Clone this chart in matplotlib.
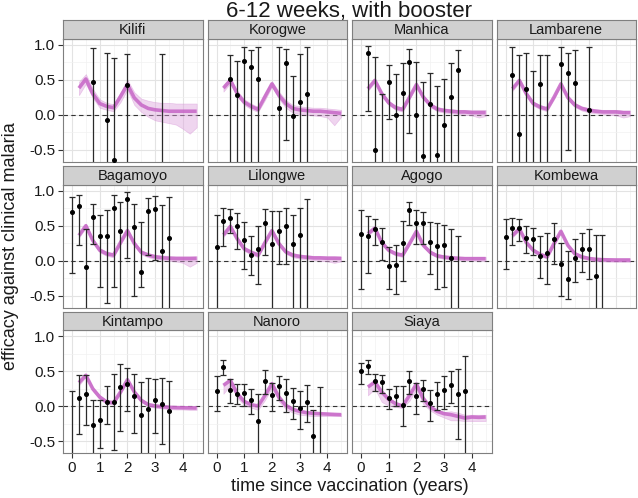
import matplotlib
matplotlib.use('Agg')
import matplotlib.pyplot as plt
from matplotlib.ticker import FixedLocator, FuncFormatter

plt.rcParams['font.family'] = ['Liberation Sans', 'DejaVu Sans']

W, H = 638, 498

sites = ['Kilifi', 'Korogwe', 'Manhica', 'Lambarene', 'Bagamoyo', 'Lilongwe',
         'Agogo', 'Kombewa', 'Kintampo', 'Nanoro', 'Siaya']

model_t = [0.25, 0.5, 0.75, 1.0, 1.25, 1.5, 1.75, 2.0, 2.25, 2.5, 2.75, 3.0,
           3.25, 3.5, 3.75, 4.0, 4.25, 4.5]

# ---------------- observed estimates ----------------
kilifi_t = [0.75, 1.25, 1.5, 2.0, 3.25]
kilifi_est = [0.47, -0.075, -0.65, 0.43, -0.9]
kilifi_lo = [-1.2, -1.2, -1.3, -1.2, -1.6]
kilifi_hi = [0.95, 0.88, 0.81, 0.86, 0.87]

korogwe_t = [0.5, 0.75, 1.0, 1.25, 1.5, 2.25, 2.5, 2.75, 3.0, 3.25]
korogwe_est = [0.51, 0.28, 0.76, 0.68, 0.51, 0.09, 0.74, -0.02, 0.18, 0.29]
korogwe_lo = [-1.2, -1.2, -1.2, -1.2, -1.2, -1.2, -0.36, -1.2, -1.2, -1.2]
korogwe_hi = [0.85, 0.76, 0.96, 0.92, 0.96, 0.96, 0.94, 0.55, 0.87, 0.96]

manhica_t = [0.25, 0.5, 0.75, 1.0, 1.25, 1.5, 1.75, 2.0, 2.25, 2.5, 2.75, 3.0, 3.25, 3.5]
manhica_est = [0.875, -0.50, -0.8, 0.47, -0.005, 0.315, 0.75, -0.01, -0.59, 0.16, -0.57, -0.15, 0.255, 0.645]
manhica_lo = [0.057, -1.2, -1.5, -0.057, -1.2, -1.2, -0.254, -1.2, -1.5, -1.2, -1.5, -1.2, -1.2, -1.2]
manhica_hi = [0.975, 0.83, 0.29, 0.716, 0.584, 0.735, 0.937, 0.75, 0.466, 0.593, 0.405, 0.513, 0.739, 0.923]

lambarene_t = [0.25, 0.5, 0.75, 1.0, 1.25, 1.5, 2.0, 2.25, 2.5, 3.0]
lambarene_est = [0.574, -0.273, 0.363, -0.8, 0.438, -0.8, 0.73, 0.598, 0.457, 0.07]
lambarene_lo = [-1.2, -1.2, -1.2, -1.5, -1.2, -1.5, -1.2, -0.499, -1.2, -1.2]
lambarene_hi = [0.96, 0.852, 0.876, 0.621, 0.852, 0.857, 0.97, 0.88, 0.918, 0.96]

bagamoyo_t = [0, 0.25, 0.5, 0.75, 1.0, 1.25, 1.5, 1.75, 2.0, 2.25, 2.5, 2.75, 3.0, 3.25, 3.5]
bagamoyo_est = [0.702, 0.786, -0.089, 0.631, 0.353, 0.348, 0.749, 0.419, 0.88, 0.480, -0.155, 0.716, 0.739, 0.137, 0.325]
bagamoyo_lo = [-0.169, 0.231, -1.2, 0.245, -0.37, -0.61, -0.37, -1.2, 0.033, -0.50, -0.37, 0.089, 0.009, -1.2, -1.2]
bagamoyo_hi = [0.913, 0.937, 0.45, 0.81, 0.659, 0.729, 0.937, 0.842, 0.975, 0.810, 0.551, 0.899, 0.918, 0.796, 0.904]

lilongwe_t = [0, 0.25, 0.5, 0.75, 1.0, 1.25, 1.5, 1.75, 2.0, 2.25, 2.5, 2.75, 3.0, 3.25]
lilongwe_est = [0.198, 0.574, 0.612, 0.490, 0.292, 0.089, 0.165, 0.541, 0.24, 0.419, 0.499, 0.24, 0.367, -0.8]
lilongwe_lo = [-1.2, 0.207, 0.395, 0.174, -0.12, -0.202, -0.33, 0.08, -1.2, -0.042, -0.042, -1.2, -1.2, -1.5]
lilongwe_hi = [0.655, 0.758, 0.739, 0.678, 0.551, 0.353, 0.494, 0.739, 0.706, 0.706, 0.749, 0.655, 0.753, 0.88]

agogo_t = [0, 0.25, 0.5, 0.75, 1.0, 1.25, 1.5, 1.75, 2.0, 2.25, 2.5, 2.75, 3.0, 3.25, 3.5]
agogo_est = [0.386, 0.353, 0.447, 0.268, -0.071, -0.061, 0.259, 0.73, 0.537, 0.537, 0.268, 0.207, 0.23, 0.033, -0.8]
agogo_lo = [-0.40, -0.169, 0.231, 0.009, -0.41, -0.475, -0.287, 0.513, 0.235, 0.235, -0.193, -0.41, -0.38, -1.2, -1.5]
agogo_hi = [0.725, 0.636, 0.598, 0.466, 0.198, 0.231, 0.565, 0.843, 0.725, 0.70, 0.551, 0.542, 0.513, 0.457, 0.348]

kombewa_t = [0, 0.25, 0.5, 0.75, 1.0, 1.25, 1.5, 1.75, 2.0, 2.25, 2.5, 2.75, 3.0, 3.25, 3.5]
kombewa_est = [0.339, 0.466, 0.466, 0.33, 0.306, 0.066, 0.104, 0.306, -0.052, -0.259, 0.042, 0.165, 0.165, -0.212, -0.8]
kombewa_lo = [-0.118, 0.231, 0.287, 0.113, 0.089, -0.24, -0.334, -0.052, -0.50, -0.55, -0.31, -0.165, -0.259, -1.2, -1.5]
kombewa_hi = [0.598, 0.61, 0.598, 0.489, 0.466, 0.353, 0.395, 0.541, 0.254, 0.136, 0.306, 0.395, 0.457, 0.363, 0.363]

kintampo_t = [0, 0.25, 0.5, 0.75, 1.0, 1.25, 1.5, 1.75, 2.0, 2.25, 2.5, 2.75, 3.0, 3.25, 3.5]
kintampo_est = [-0.75, 0.119, 0.171, -0.262, -0.19, 0.062, 0.067, 0.271, 0.314, 0.143, -0.129, -0.033, 0.086, 0.038, -0.067]
kintampo_lo = [-1.5, -0.390, -0.271, -1.2, -0.595, -0.248, -0.62, -0.352, -0.071, -0.381, -1.2, -1.2, -0.376, -0.538, -1.2]
kintampo_hi = [0.214, 0.443, 0.452, 0.095, 0.095, 0.290, 0.457, 0.6, 0.552, 0.457, 0.348, 0.410, 0.390, 0.4, 0.357]

nanoro_t = [0, 0.25, 0.5, 0.75, 1.0, 1.25, 1.5, 1.75, 2.0, 2.25, 2.5, 2.75, 3.0, 3.25, 3.5, 3.75]
nanoro_est = [0.214, 0.562, 0.229, 0.181, 0.190, 0.086, -0.214, 0.362, 0.167, 0.286, 0.190, 0.076, -0.019, 0.062, -0.424, -0.8]
nanoro_lo = [-0.071, 0.443, 0.043, 0.029, 0.005, -0.114, -1.2, 0.181, -0.067, 0.095, -0.081, -0.176, -0.319, -0.224, -1.2, -1.5]
nanoro_hi = [0.433, 0.657, 0.386, 0.314, 0.314, 0.243, 0.181, 0.514, 0.333, 0.433, 0.386, 0.267, 0.214, 0.309, -0.05, 0.281]

siaya_t = [0, 0.25, 0.5, 0.75, 1.0, 1.25, 1.5, 1.75, 2.0, 2.25, 2.5, 2.75, 3.0, 3.25, 3.5, 3.75]
siaya_est = [0.500, 0.576, 0.362, 0.348, 0.124, 0.148, 0.014, 0.357, 0.148, 0.252, 0.048, 0.171, 0.229, 0.300, 0.181, 0.219]
siaya_lo = [0.314, 0.457, 0.214, 0.195, -0.043, 0.005, -0.286, 0.181, -0.105, 0.071, -0.214, -0.057, -0.033, 0.052, -0.471, -1.2]
siaya_hi = [0.624, 0.662, 0.462, 0.452, 0.252, 0.286, 0.290, 0.500, 0.333, 0.381, 0.238, 0.348, 0.433, 0.505, 0.529, 0.719]

# ---------------- model fits (median and band) ----------------
kilifi_fit = [0.38, 0.51, 0.30, 0.16, 0.12, 0.10, 0.26, 0.43, 0.24, 0.14, 0.09, 0.07, 0.06, 0.05, 0.05, 0.05, 0.05, 0.05]
kilifi_flo = [0.28, 0.44, 0.24, 0.10, 0.07, 0.05, 0.18, 0.36, 0.14, 0.04, -0.03, -0.08, -0.10, -0.12, -0.14, -0.20, -0.27, -0.18]
kilifi_fhi = [0.47, 0.58, 0.37, 0.22, 0.17, 0.15, 0.32, 0.50, 0.32, 0.23, 0.20, 0.18, 0.17, 0.17, 0.16, 0.16, 0.16, 0.16]

korogwe_fit = [0.38, 0.49, 0.30, 0.18, 0.12, 0.075, 0.26, 0.44, 0.28, 0.16, 0.09, 0.07, 0.06, 0.05, 0.05, 0.04, 0.03, 0.02]
korogwe_flo = [0.33, 0.45, 0.26, 0.14, 0.08, 0.04, 0.21, 0.40, 0.23, 0.10, 0.03, 0.01, 0.00, -0.01, -0.02, -0.04, -0.15, -0.03]
korogwe_fhi = [0.43, 0.53, 0.34, 0.22, 0.16, 0.11, 0.31, 0.48, 0.33, 0.21, 0.14, 0.12, 0.11, 0.10, 0.10, 0.09, 0.08, 0.07]

manhica_fit = [0.37, 0.49, 0.30, 0.17, 0.10, 0.075, 0.25, 0.43, 0.25, 0.14, 0.08, 0.06, 0.05, 0.04, 0.04, 0.03, 0.03, 0.03]
manhica_flo = [0.34, 0.46, 0.27, 0.14, 0.07, 0.045, 0.22, 0.40, 0.22, 0.11, 0.05, 0.03, 0.02, 0.01, 0.0, -0.01, -0.04, -0.02]
manhica_fhi = [0.40, 0.52, 0.33, 0.20, 0.13, 0.105, 0.28, 0.46, 0.28, 0.17, 0.11, 0.09, 0.08, 0.07, 0.07, 0.07, 0.07, 0.07]

lambarene_fit = [0.37, 0.49, 0.30, 0.16, 0.11, 0.08, 0.25, 0.44, 0.245, 0.14, 0.09, 0.066, 0.05, 0.04, 0.04, 0.04, 0.03, 0.03]
lambarene_flo = [0.34, 0.46, 0.27, 0.13, 0.08, 0.05, 0.22, 0.41, 0.215, 0.11, 0.06, 0.035, 0.02, 0.01, 0.0, -0.01, -0.04, -0.02]
lambarene_fhi = [0.40, 0.52, 0.33, 0.19, 0.14, 0.11, 0.28, 0.47, 0.275, 0.17, 0.12, 0.095, 0.08, 0.07, 0.07, 0.07, 0.06, 0.06]

bagamoyo_fit = [0.36, 0.50, 0.29, 0.15, 0.10, 0.08, 0.26, 0.43, 0.245, 0.12, 0.08, 0.056, 0.042, 0.035, 0.03, 0.03, 0.03, 0.033]
bagamoyo_flo = [0.33, 0.47, 0.26, 0.12, 0.07, 0.05, 0.23, 0.40, 0.215, 0.09, 0.05, 0.025, 0.01, 0.0, -0.01, -0.03, -0.085, -0.03]
bagamoyo_fhi = [0.39, 0.53, 0.32, 0.18, 0.13, 0.11, 0.29, 0.46, 0.275, 0.15, 0.11, 0.085, 0.075, 0.07, 0.065, 0.065, 0.065, 0.065]

lilongwe_fit = [0.37, 0.49, 0.31, 0.17, 0.12, 0.08, 0.26, 0.43, 0.245, 0.127, 0.08, 0.061, 0.05, 0.04, 0.04, 0.035, 0.035, 0.033]
lilongwe_flo = [0.34, 0.46, 0.28, 0.14, 0.09, 0.05, 0.23, 0.40, 0.215, 0.10, 0.05, 0.03, 0.02, 0.01, 0.0, -0.01, -0.03, -0.01]
lilongwe_fhi = [0.40, 0.52, 0.34, 0.20, 0.15, 0.11, 0.29, 0.46, 0.275, 0.155, 0.11, 0.09, 0.08, 0.07, 0.07, 0.065, 0.065, 0.06]

agogo_fit = [0.386, 0.466, 0.26, 0.15, 0.10, 0.08, 0.245, 0.42, 0.22, 0.12, 0.07, 0.052, 0.042, 0.035, 0.03, 0.03, 0.03, 0.03]
agogo_flo = [0.36, 0.44, 0.235, 0.125, 0.075, 0.055, 0.22, 0.395, 0.195, 0.095, 0.045, 0.027, 0.017, 0.01, 0.005, 0.005, 0.0, 0.0]
agogo_fhi = [0.41, 0.49, 0.285, 0.175, 0.125, 0.105, 0.27, 0.445, 0.245, 0.145, 0.095, 0.077, 0.067, 0.06, 0.055, 0.055, 0.055, 0.055]

kombewa_fit = [0.36, 0.457, 0.26, 0.15, 0.09, 0.056, 0.245, 0.42, 0.22, 0.10, 0.056, 0.033, 0.02, 0.015, 0.012, 0.01, 0.01, 0.01]
kombewa_flo = [0.335, 0.43, 0.235, 0.125, 0.065, 0.03, 0.22, 0.395, 0.195, 0.075, 0.03, 0.008, -0.005, -0.01, -0.013, -0.015, -0.015, -0.015]
kombewa_fhi = [0.385, 0.48, 0.285, 0.175, 0.115, 0.08, 0.27, 0.445, 0.245, 0.125, 0.08, 0.058, 0.045, 0.04, 0.037, 0.035, 0.035, 0.035]

kintampo_fit = [0.338, 0.443, 0.25, 0.133, 0.062, 0.052, 0.205, 0.38, 0.205, 0.086, 0.024, 0.005, -0.005, -0.014, -0.018, -0.02, -0.022, -0.024]
kintampo_flo = [0.30, 0.42, 0.22, 0.10, 0.035, 0.025, 0.175, 0.35, 0.175, 0.06, 0.0, -0.02, -0.03, -0.04, -0.045, -0.045, -0.05, -0.05]
kintampo_fhi = [0.37, 0.465, 0.275, 0.16, 0.09, 0.08, 0.235, 0.405, 0.23, 0.11, 0.05, 0.03, 0.02, 0.01, 0.007, 0.005, 0.003, 0.0]

nanoro_fit = [0.30, 0.371, 0.18, 0.071, 0.024, 0.005, 0.157, 0.324, 0.133, 0.014, -0.043, -0.071, -0.09, -0.10, -0.105, -0.11, -0.115, -0.119]
nanoro_flo = [0.18, 0.30, 0.12, 0.02, -0.02, -0.05, 0.09, 0.27, 0.07, -0.04, -0.09, -0.12, -0.13, -0.14, -0.14, -0.14, -0.14, -0.14]
nanoro_fhi = [0.33, 0.40, 0.21, 0.09, 0.04, 0.02, 0.18, 0.35, 0.16, 0.04, -0.02, -0.05, -0.07, -0.08, -0.09, -0.09, -0.10, -0.10]

siaya_fit = [0.276, 0.348, 0.205, 0.10, 0.038, 0.005, 0.157, 0.319, 0.11, -0.01, -0.071, -0.105, -0.119, -0.143, -0.167, -0.152, -0.157, -0.152]
siaya_flo = [0.157, 0.25, 0.062, 0.01, -0.01, -0.024, 0.08, 0.25, 0.03, -0.06, -0.12, -0.16, -0.20, -0.20, -0.21, -0.21, -0.21, -0.21]
siaya_fhi = [0.30, 0.37, 0.23, 0.12, 0.06, 0.025, 0.18, 0.34, 0.14, 0.01, -0.05, -0.08, -0.07, -0.09, -0.12, -0.12, -0.12, -0.12]

obs = {
    'Kilifi': (kilifi_t, kilifi_est, kilifi_lo, kilifi_hi),
    'Korogwe': (korogwe_t, korogwe_est, korogwe_lo, korogwe_hi),
    'Manhica': (manhica_t, manhica_est, manhica_lo, manhica_hi),
    'Lambarene': (lambarene_t, lambarene_est, lambarene_lo, lambarene_hi),
    'Bagamoyo': (bagamoyo_t, bagamoyo_est, bagamoyo_lo, bagamoyo_hi),
    'Lilongwe': (lilongwe_t, lilongwe_est, lilongwe_lo, lilongwe_hi),
    'Agogo': (agogo_t, agogo_est, agogo_lo, agogo_hi),
    'Kombewa': (kombewa_t, kombewa_est, kombewa_lo, kombewa_hi),
    'Kintampo': (kintampo_t, kintampo_est, kintampo_lo, kintampo_hi),
    'Nanoro': (nanoro_t, nanoro_est, nanoro_lo, nanoro_hi),
    'Siaya': (siaya_t, siaya_est, siaya_lo, siaya_hi),
}
fits = {
    'Kilifi': (kilifi_fit, kilifi_flo, kilifi_fhi),
    'Korogwe': (korogwe_fit, korogwe_flo, korogwe_fhi),
    'Manhica': (manhica_fit, manhica_flo, manhica_fhi),
    'Lambarene': (lambarene_fit, lambarene_flo, lambarene_fhi),
    'Bagamoyo': (bagamoyo_fit, bagamoyo_flo, bagamoyo_fhi),
    'Lilongwe': (lilongwe_fit, lilongwe_flo, lilongwe_fhi),
    'Agogo': (agogo_fit, agogo_flo, agogo_fhi),
    'Kombewa': (kombewa_fit, kombewa_flo, kombewa_fhi),
    'Kintampo': (kintampo_fit, kintampo_flo, kintampo_fhi),
    'Nanoro': (nanoro_fit, nanoro_flo, nanoro_fhi),
    'Siaya': (siaya_fit, siaya_flo, siaya_fhi),
}

x_ticks = [0, 1, 2, 3, 4]
y_ticks = [-0.5, 0.0, 0.5, 1.0]

# ---------------- layout (pixels) ----------------
col_left = [63, 207.5, 352, 496.5]
panel_w = 139.5
row_top = [38.7, 184.7, 330.3]
panel_h = 123
strip_h = 18.3

fig = plt.figure(figsize=(W / 100, H / 100), dpi=100)
fig.patch.set_facecolor('white')

line_col = '#C45EC4'
band_col = '#DDA2DD'
grey50 = '#7F7F7F'


def fmt_y(v, pos):
    return '%.1f' % v


for i, site in enumerate(sites):
    r, c = divmod(i, 4)
    l = col_left[c]
    t = row_top[r]
    ax = fig.add_axes([l / W, 1 - (t + panel_h) / H, panel_w / W, panel_h / H])
    ax.set_xlim(-0.325, 4.71)
    ax.set_ylim(-0.67, 1.085)
    ax.xaxis.set_major_locator(FixedLocator(x_ticks))
    ax.xaxis.set_minor_locator(FixedLocator([0.5, 1.5, 2.5, 3.5, 4.5]))
    ax.yaxis.set_major_locator(FixedLocator(y_ticks))
    ax.yaxis.set_minor_locator(FixedLocator([-0.25, 0.25, 0.75]))
    ax.yaxis.set_major_formatter(FuncFormatter(fmt_y))
    ax.grid(which='major', color='#E3E3E3', lw=0.8)
    ax.grid(which='minor', color='#F1F1F1', lw=0.5)
    ax.set_axisbelow(True)
    for sp in ax.spines.values():
        sp.set_color(grey50)
        sp.set_linewidth(0.8)
    bottom_row = (r == 2) or (r == 1 and c == 3 and False)
    ax.tick_params(which='both', left=(c == 0), labelleft=(c == 0),
                   bottom=(r == 2), labelbottom=(r == 2))
    ax.tick_params(which='minor', left=False, bottom=False)
    ax.tick_params(which='major', length=3.5, width=0.8, color='#333333',
                   labelsize=11, labelcolor='#1A1A1A', pad=2)

    ax.axhline(0, color='#333333', lw=0.8, ls=(0, (4, 3)), zorder=2)

    fv, flo, fhi = fits[site]
    ax.fill_between(model_t, flo, fhi, color=band_col, alpha=0.45,
                    edgecolor='#D58FD5', lw=0.5, zorder=3)
    ax.plot(model_t, fv, color=line_col, lw=2.6, alpha=0.8, zorder=4,
            solid_capstyle='butt')

    ot, oe, ol, oh = obs[site]
    yerr = [[e - lo for e, lo in zip(oe, ol)], [hi - e for e, hi in zip(oe, oh)]]
    ax.errorbar(ot, oe, yerr=yerr, fmt='o', ms=2.6, mfc='black', mec='black',
                ecolor='#2A2A2A', elinewidth=0.9, capsize=2.3, capthick=0.9,
                zorder=5)

    # strip
    sax = fig.add_axes([l / W, 1 - t / H, panel_w / W, strip_h / H])
    sax.set_facecolor('#D0D0D0')
    sax.set_xticks([])
    sax.set_yticks([])
    for sp in sax.spines.values():
        sp.set_color(grey50)
        sp.set_linewidth(0.8)
    sax.text(0.5, 0.45, site, ha='center', va='center', fontsize=10.5,
             color='#1A1A1A', transform=sax.transAxes)

fig.text(349.5 / W, 1 - 11 / H, '6-12 weeks, with booster', ha='center',
         va='center', fontsize=16, color='#1A1A1A')
fig.text(349.5 / W, 1 - 486 / H, 'time since vaccination (years)', ha='center',
         va='center', fontsize=13, color='#1A1A1A')
fig.text(11 / W, 1 - 246 / H, 'efficacy against clinical malaria', ha='center',
         va='center', rotation=90, fontsize=13, color='#1A1A1A')

fig.savefig('out.png', dpi=100)
